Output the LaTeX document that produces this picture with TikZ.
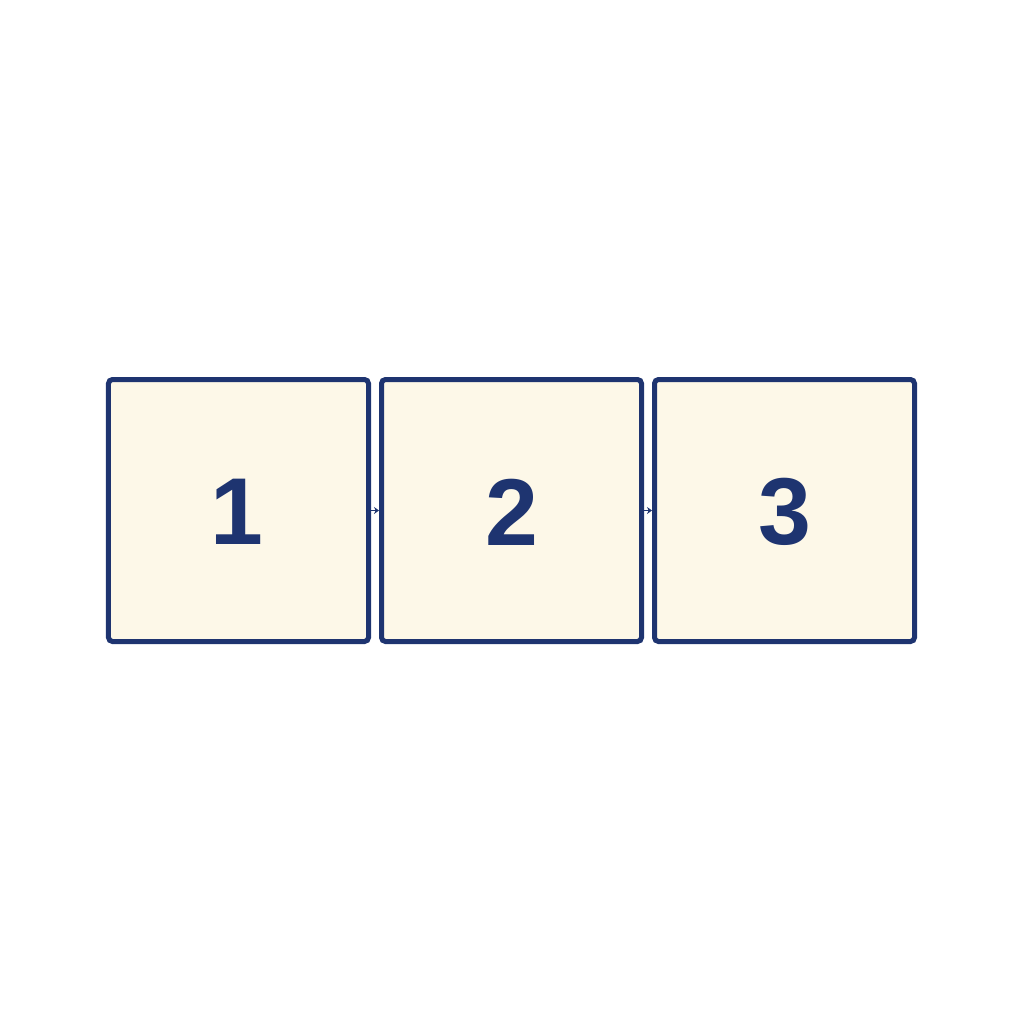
\documentclass[tikz,border=0pt]{standalone}
\usepackage{fontspec}
\setmainfont{Liberation Sans}
\usetikzlibrary{arrows.meta}
\definecolor{navy}{HTML}{1E3470}
\definecolor{cream}{HTML}{FDF8E8}
\begin{document}
\begin{tikzpicture}[x=1bp,y=-1bp,
  panel/.style={draw=navy,fill=cream,line width=5bp,rounded corners=4bp,minimum width=260bp,minimum height=262bp,inner sep=0pt,
    font=\fontsize{95bp}{95bp}\selectfont\bfseries,text=navy},
  num/.style={font=\fontsize{95bp}{95bp}\selectfont\bfseries,text=navy,inner sep=0pt},
  link/.style={draw=navy,line width=1.5bp,-{Stealth[length=5bp,width=7bp]}}]
\useasboundingbox (0,0) rectangle (1024,1024);
\node[panel] (b1) at (238.5,510.5) {};
\node[panel] (b2) at (511.5,510.5) {};
\node[panel] (b3) at (784.5,510.5) {};
\node[num] (t1) at (236.5,512) {1};
\node[num] (t2) at (511.5,512) {2};
\node[num] (t3) at (784.5,512) {3};
\draw[link] (b1.east) -- (b2.west);
\draw[link] (b2.east) -- (b3.west);
\end{tikzpicture}
\end{document}
